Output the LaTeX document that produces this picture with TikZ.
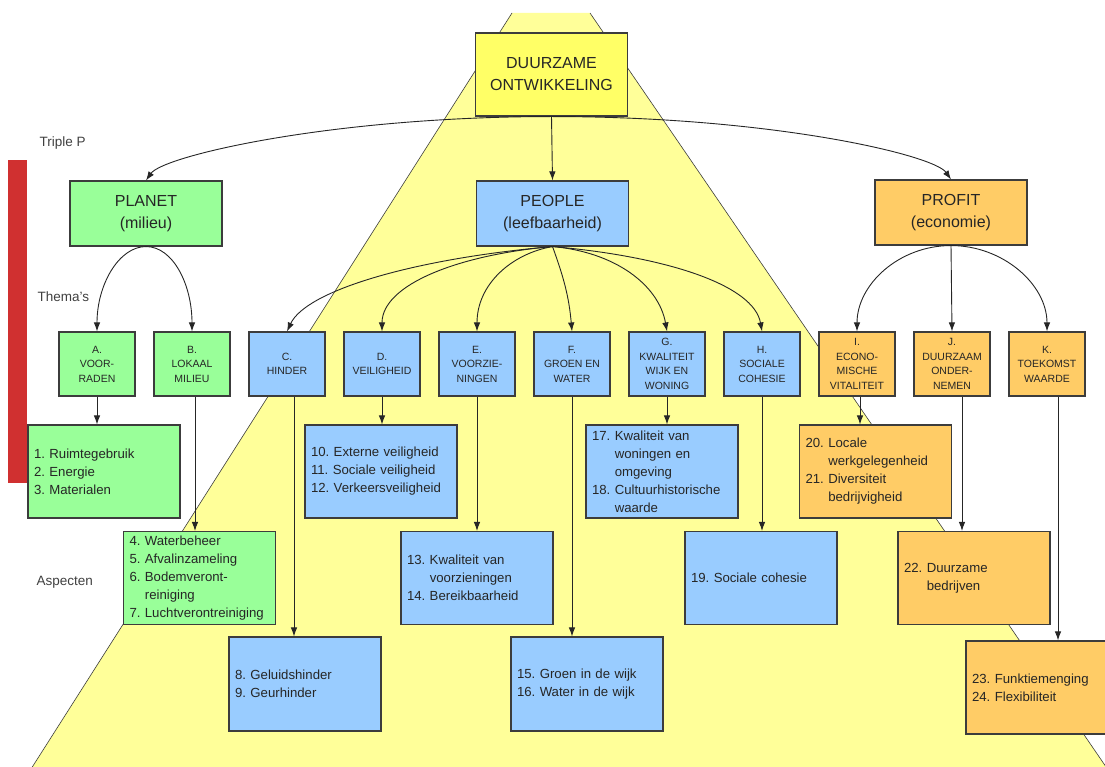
\documentclass[tikz,border=0pt]{standalone}
\usepackage{fontspec}
\setmainfont{Liberation Sans}
\usepackage{tikz}
\usetikzlibrary{positioning}
\usetikzlibrary{arrows.meta}
\frenchspacing

\definecolor{planetgreen}{RGB}{153,255,153}
\definecolor{peopleblue}{RGB}{153,204,255}
\definecolor{profitorange}{RGB}{255,204,102}
\definecolor{topyellow}{RGB}{255,255,102}
\definecolor{conelight}{RGB}{255,255,153}
\definecolor{barred}{RGB}{208,48,48}
\definecolor{edgegray}{RGB}{60,60,60}

\tikzset{
	box/.style={draw=edgegray, line width=1.1pt, text=black!85, inner sep=0pt},
	pillar/.style={box, minimum width=152pt, minimum height=65pt, align=center, font=\fontsize{16}{22}\selectfont},
	thema/.style={box, minimum width=76pt, minimum height=64pt, align=center, font=\fontsize{10.5}{14.5}\selectfont},
	aspect/.style={box, text width=140pt, inner xsep=6pt, minimum height=93pt, align=left, font=\fontsize{13.2}{18}\selectfont},
	level/.style={anchor=west, text=black!75, font=\fontsize{13.5}{15}\selectfont},
	link/.style={->, draw=black!85, line width=0.9pt},
}

\begin{document}
\begin{tikzpicture}[x=1pt, y=1pt, >={Latex[length=9pt,width=6.5pt]}, node distance=95pt, on grid]
	\useasboundingbox (0,0) rectangle (1105,-767);
	\clip (0,0) rectangle (1105,-767);

	% background
	\fill[conelight] (512,-13) -- (590,-13) -- (1115,-780) -- (24,-780) -- cycle;
	\draw[edgegray, line width=0.6pt] (512,-13) -- (24,-780);
	\draw[edgegray, line width=0.6pt] (590,-13) -- (1115,-780);
	\fill[barred] (8,-160) rectangle (27,-483);

	\node[level] (tripleP) at (36,-143) {Triple P};
	\node[level] (themas) at (34,-297) {Thema's};
	\node[level] (aspecten) at (33,-582) {Aspecten};

	% top and triple P
	\node[pillar, fill=topyellow, minimum height=83pt] (top) at (551.5,-74.5) {DUURZAME\\ONTWIKKELING};
	\node[pillar, fill=planetgreen] (planet) at (146,-213.5) {PLANET\\(milieu)};
	\node[pillar, fill=peopleblue] (people) at (552.5,-213.5) {PEOPLE\\(leefbaarheid)};
	\node[pillar, fill=profitorange] (profit) at (951,-212.5) {PROFIT\\(economie)};

	% thema's
	\node[thema, fill=planetgreen] (A) at (97,-364) {A.\\VOOR-\\RADEN};
	\node[thema, fill=planetgreen, right=of A] (B) {B.\\LOKAAL\\MILIEU};
	\node[thema, fill=peopleblue, right=of B] (C) {C.\\HINDER};
	\node[thema, fill=peopleblue, right=of C] (D) {D.\\VEILIGHEID};
	\node[thema, fill=peopleblue, right=of D] (E) {E.\\VOORZIE-\\NINGEN};
	\node[thema, fill=peopleblue, right=of E] (F) {F.\\GROEN EN\\WATER};
	\node[thema, fill=peopleblue, right=of F] (G) {G.\\KWALITEIT\\WIJK EN\\WONING};
	\node[thema, fill=peopleblue, right=of G] (H) {H.\\SOCIALE\\COHESIE};
	\node[thema, fill=profitorange, right=of H] (I) {I.\\ECONO-\\MISCHE\\VITALITEIT};
	\node[thema, fill=profitorange, right=of I] (J) {J.\\DUURZAAM\\ONDER-\\NEMEN};
	\node[thema, fill=profitorange, right=of J] (K) {K.\\TOEKOMST\\WAARDE};

	% aspecten
	\node[aspect, fill=planetgreen] (a1) at (104,-471.5) {1. Ruimtegebruik\\2. Energie\\3. Materialen};
	\node[aspect, fill=planetgreen] (a4) at (199.5,-578) {4. Waterbeheer\\5. Afvalinzameling\\6. Bodemveront-\\\phantom{6. }reiniging\\7. Luchtverontreiniging};
	\node[aspect, fill=peopleblue, minimum height=94pt] (a8) at (305,-684) {8. Geluidshinder\\9. Geurhinder};
	\node[aspect, fill=peopleblue] (a10) at (381,-471.5) {10. Externe veiligheid\\11. Sociale veiligheid\\12. Verkeersveiligheid};
	\node[aspect, fill=peopleblue] (a13) at (477,-578) {13. Kwaliteit van\\\phantom{13. }voorzieningen\\14. Bereikbaarheid};
	\node[aspect, fill=peopleblue, minimum height=94pt] (a15) at (587,-684) {15. Groen in de wijk\\16. Water in de wijk};
	\node[aspect, fill=peopleblue] (a17) at (662,-471.5) {17. Kwaliteit van\\\phantom{17. }woningen en\\\phantom{17. }omgeving\\18. Cultuurhistorische\\\phantom{18. }waarde};
	\node[aspect, fill=peopleblue] (a19) at (761,-578) {19. Sociale cohesie};
	\node[aspect, fill=profitorange] (a20) at (875.5,-471.5) {20. Locale\\\phantom{20. }werkgelegenheid\\21. Diversiteit\\\phantom{21. }bedrijvigheid};
	\node[aspect, fill=profitorange] (a22) at (974,-578) {22. Duurzame\\\phantom{22. }bedrijven};
	\node[aspect, fill=profitorange] (a23) at (1042,-687.5) {23. Funktiemenging\\24. Flexibiliteit};

	% top -> triple P
	\draw[link] (top.south) to[out=180, in=55, out distance=220pt, in distance=30pt] (planet.north);
	\draw[link] (top.south) -- (people.north);
	\draw[link] (top.south) to[out=0, in=125, out distance=220pt, in distance=30pt] (profit.north);

	% triple P -> thema's
	\draw[link] (planet.south) to[out=180, in=90, out distance=27pt, in distance=47pt] (A.north);
	\draw[link] (planet.south) to[out=0, in=90, out distance=27pt, in distance=47pt] (B.north);
	\draw[link] (people.south) to[out=185, in=65, out distance=140pt, in distance=45pt] (C.north);
	\draw[link] (people.south) to[out=185, in=90, out distance=94pt, in distance=47pt] (D.north);
	\draw[link] (people.south) to[out=190, in=90, out distance=42pt, in distance=47pt] (E.north);
	\draw[link] (people.south) to[out=-70, in=95] (F.north);
	\draw[link] (people.south) to[out=-5, in=100, out distance=63pt, in distance=47pt] (G.north);
	\draw[link] (people.south) to[out=-5, in=100, out distance=115pt, in distance=47pt] (H.north);
	\draw[link] (profit.south) to[out=180, in=90, out distance=52pt, in distance=47pt] (I.north);
	\draw[link] (profit.south) -- (J.north);
	\draw[link] (profit.south) to[out=0, in=90, out distance=52pt, in distance=47pt] (K.north);

	% thema's -> aspecten
	\draw[link] (A.south) -- (A.south |- a1.north);
	\draw[link] ([xshift=3pt]B.south) -- ([xshift=3pt]B.south |- a4.north);
	\draw[link] ([xshift=7pt]C.south) -- ([xshift=7pt]C.south |- a8.north);
	\draw[link] (D.south) -- (D.south |- a10.north);
	\draw[link] (E.south) -- (E.south |- a13.north);
	\draw[link] (F.south) -- (F.south |- a15.north);
	\draw[link] (G.south) -- (G.south |- a17.north);
	\draw[link] (H.south) -- (H.south |- a19.north);
	\draw[link] ([xshift=3pt]I.south) -- ([xshift=3pt]I.south |- a20.north);
	\draw[link] ([xshift=10pt]J.south) -- ([xshift=10pt]J.south |- a22.north);
	\draw[link] ([xshift=11pt]K.south) -- ([xshift=11pt]K.south |- a23.north);
\end{tikzpicture}
\end{document}
